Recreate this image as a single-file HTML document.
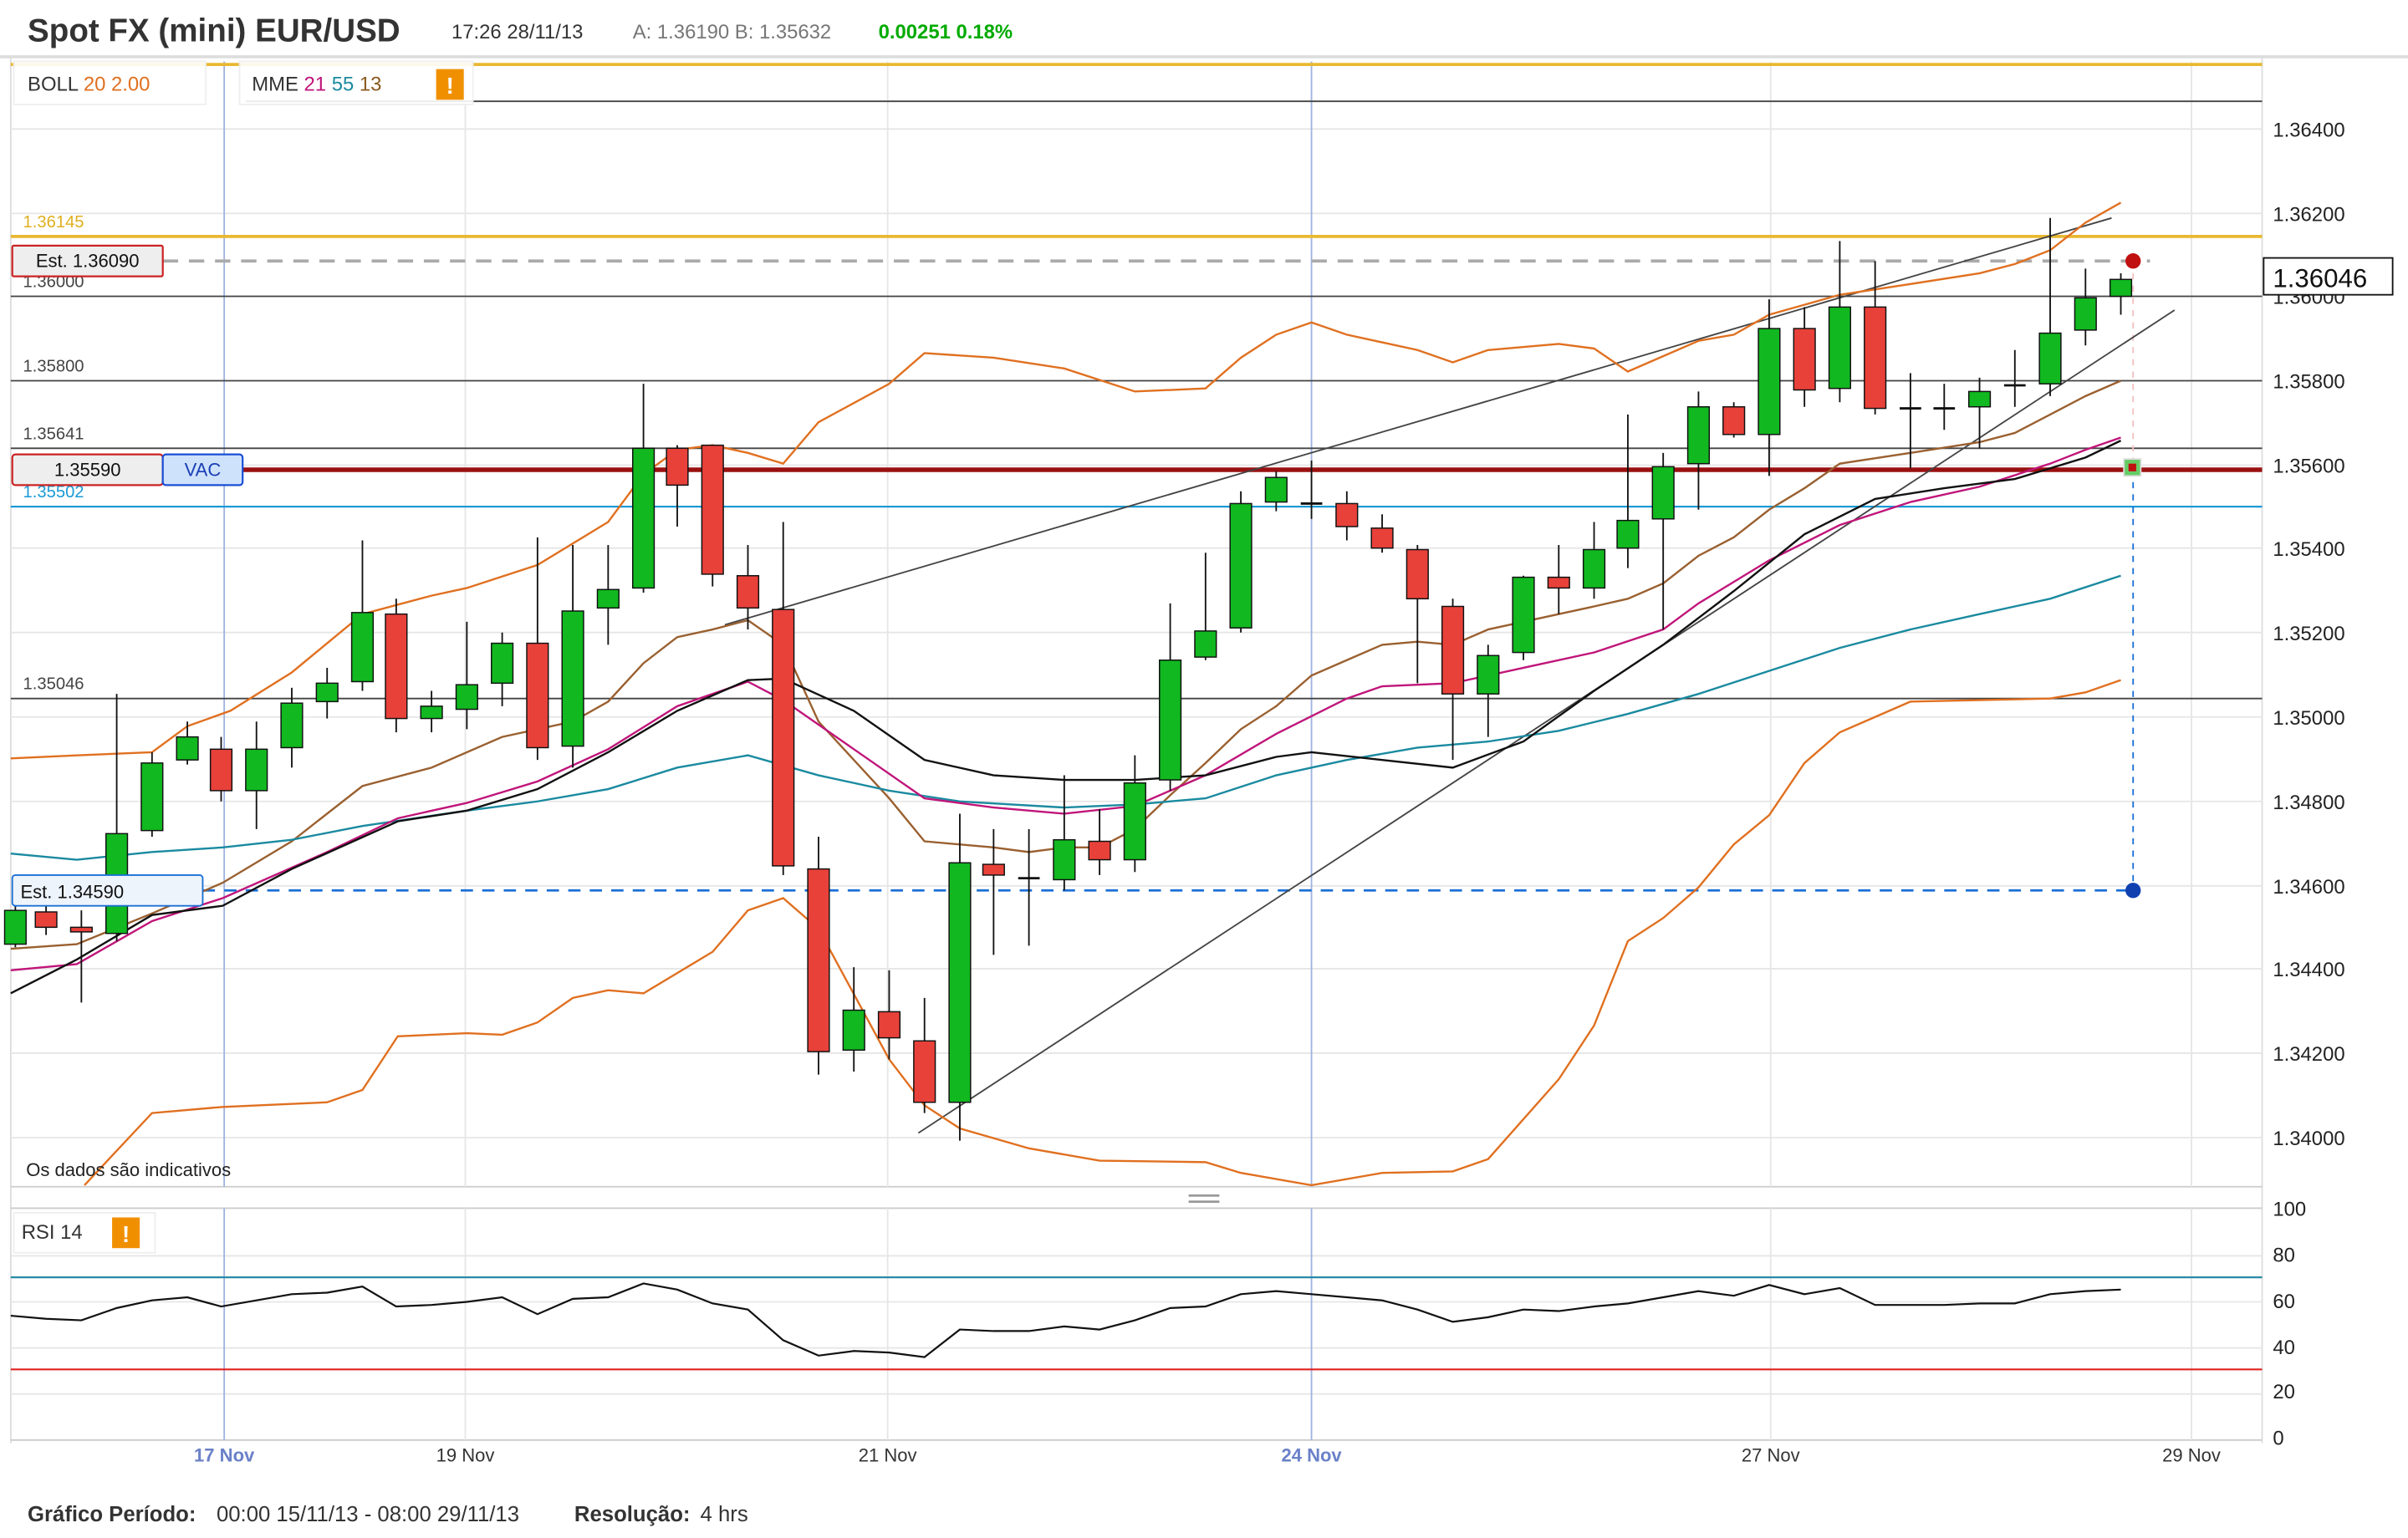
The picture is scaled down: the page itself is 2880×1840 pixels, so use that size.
<!DOCTYPE html>
<html><head><meta charset="utf-8">
<style>
html,body{margin:0;padding:0;background:#fff;}
svg{display:block;font-family:"Liberation Sans",sans-serif;}
</style></head>
<body>
<svg id="c" width="2880" height="1840" viewBox="0 0 1568 1001.8" preserveAspectRatio="none" xmlns="http://www.w3.org/2000/svg">
<rect x="0" y="0" width="1568" height="1002" fill="#fff"/>
<text x="18" y="27" font-size="21" font-weight="bold" fill="#333">Spot FX (mini) EUR/USD</text>
<text x="294" y="25" font-size="13" fill="#333">17:26 28/11/13</text>
<text x="412" y="25" font-size="13" fill="#777">A: 1.36190  B: 1.35632</text>
<text x="572" y="25" font-size="13" font-weight="bold" fill="#0a0">0.00251 0.18%</text>
<line x1="0" y1="37" x2="1568" y2="37" stroke="#ddd" stroke-width="2"/>
<line x1="7" y1="37" x2="7" y2="940" stroke="#ddd"/>
<line x1="1473" y1="37" x2="1473" y2="940" stroke="#ddd"/>
<line x1="7" y1="773" x2="1473" y2="773" stroke="#ccc"/>
<line x1="7" y1="787" x2="1473" y2="787" stroke="#ccc"/>
<line x1="7" y1="938" x2="1473" y2="938" stroke="#ccc"/>
<rect x="774" y="778" width="20" height="1.5" fill="#999"/><rect x="774" y="782" width="20" height="1.5" fill="#999"/>
<g id="grid"></g>
<g id="lvl"></g>
<g id="ind"></g>
<g id="cand"></g>
<text x="15" y="148" font-size="11" fill="#e0b020">1.36145</text>
<text x="15" y="187" font-size="11" fill="#444">1.36000</text>
<text x="15" y="242" font-size="11" fill="#444">1.35800</text>
<text x="15" y="286" font-size="11" fill="#444">1.35641</text>
<text x="15" y="324" font-size="11" fill="#1a9ad6">1.35502</text>
<text x="15" y="449" font-size="11" fill="#444">1.35046</text>
<rect x="8" y="160" width="98" height="20" fill="#eee" stroke="#c22" stroke-width="1.2" rx="1"/>
<text x="57" y="174" font-size="12" fill="#111" text-anchor="middle">Est. 1.36090</text>
<rect x="8" y="296" width="98" height="20" fill="#eee" stroke="#c22" stroke-width="1.2" rx="2"/>
<rect x="106" y="296" width="52" height="20" fill="#cfe2fb" stroke="#1a4fd6" stroke-width="1.2" rx="2"/>
<text x="57" y="310" font-size="12" fill="#111" text-anchor="middle">1.35590</text>
<text x="132" y="310" font-size="12" fill="#1a3fb6" text-anchor="middle">VAC</text>
<rect x="8" y="570" width="124" height="20" fill="#eef4fc" stroke="#1a6fd6" stroke-width="1" rx="2"/>
<text x="47" y="585" font-size="12" fill="#111" text-anchor="middle">Est. 1.34590</text>
<rect x="9" y="40" width="125" height="28" fill="#fff" stroke="#eee" opacity="0.9"/>
<text x="18" y="59" font-size="13" fill="#333">BOLL <tspan fill="#e07020">20  2.00</tspan></text>
<rect x="156" y="40" width="152" height="28" fill="#fff" stroke="#eee" opacity="0.9"/>
<text x="164" y="59" font-size="13" fill="#333">MME <tspan fill="#c0157a">21</tspan> <tspan fill="#1a8aa0">55</tspan> <tspan fill="#8a5a20">13</tspan></text>
<rect x="284" y="45" width="18" height="20" fill="#f09000"/><text x="293" y="61" font-size="15" font-weight="bold" fill="#fff" text-anchor="middle">!</text>
<text x="17" y="766" font-size="12" fill="#222">Os dados são indicativos</text>
<g font-size="13" fill="#222">
<text x="1480" y="89">1.36400</text><text x="1480" y="144">1.36200</text><text x="1480" y="198">1.36000</text>
<text x="1480" y="253">1.35800</text><text x="1480" y="308">1.35600</text><text x="1480" y="362">1.35400</text>
<text x="1480" y="417">1.35200</text><text x="1480" y="472">1.35000</text><text x="1480" y="527">1.34800</text>
<text x="1480" y="582">1.34600</text><text x="1480" y="636">1.34400</text><text x="1480" y="691">1.34200</text>
<text x="1480" y="746">1.34000</text>
<text x="1480" y="792">100</text><text x="1480" y="822">80</text><text x="1480" y="852">60</text>
<text x="1480" y="882">40</text><text x="1480" y="911">20</text><text x="1480" y="941">0</text>
</g>
<rect x="1474" y="168" width="84" height="24" fill="#fff" stroke="#111"/>
<text x="1480" y="187" font-size="17" fill="#111">1.36046</text>
<rect x="9" y="790" width="92" height="26" fill="#fff" stroke="#eee"/>
<text x="14" y="807" font-size="13" fill="#333">RSI  14</text>
<rect x="73" y="793" width="18" height="20" fill="#f09000"/><text x="82" y="809" font-size="15" font-weight="bold" fill="#fff" text-anchor="middle">!</text>
<g font-size="12" fill="#333" text-anchor="middle">
<text x="146" y="952" fill="#6a80c8" font-weight="bold">17 Nov</text><text x="303" y="952">19 Nov</text>
<text x="578" y="952">21 Nov</text><text x="854" y="952" fill="#6a80c8" font-weight="bold">24 Nov</text>
<text x="1153" y="952">27 Nov</text><text x="1427" y="952">29 Nov</text>
</g>
<text x="18" y="991" font-size="14" fill="#333" font-weight="bold">Gráfico Período:</text>
<text x="141" y="991" font-size="14" fill="#333">00:00 15/11/13 - 08:00 29/11/13</text>
<text x="374" y="991" font-size="14" fill="#333" font-weight="bold">Resolução:</text>
<text x="456" y="991" font-size="14" fill="#333">4 hrs</text>
</svg>
<script>
var NS="http://www.w3.org/2000/svg";
function el(p,t,a){var e=document.createElementNS(NS,t);for(var k in a)e.setAttribute(k,a[k]);document.getElementById(p).appendChild(e);return e;}
function L(p,x1,y1,x2,y2,s,w,d){var a={x1:x1,y1:y1,x2:x2,y2:y2,stroke:s,"stroke-width":w||1};if(d)a["stroke-dasharray"]=d;return el(p,"line",a);}
[84,139,193,248,303,357,412,467,522,577,631,686,741].forEach(function(y){L("grid",7,y,1473,y,"#e6e6e6");});
[818,848,878,908].forEach(function(y){L("grid",7,y,1473,y,"#e6e6e6");});
[303,578,1153,1427].forEach(function(x){L("grid",x,40,x,773,"#e6e6e6");L("grid",x,787,x,938,"#e6e6e6");});
[146,854].forEach(function(x){L("grid",x,40,x,773,"#9fb2e0");L("grid",x,787,x,938,"#9fb2e0");});
L("lvl",7,42,1473,42,"#e8b830",2);
L("lvl",160,66,1473,66,"#444",1);
L("lvl",7,154,1473,154,"#e8b830",2);
L("lvl",106,170,1400,170,"#aaa",2,"10 7");
L("lvl",7,193,1473,193,"#444",1);
L("lvl",7,248,1473,248,"#444",1);
L("lvl",7,292,1473,292,"#444",1);
L("lvl",158,306,1473,306,"#9a1010",3);
L("lvl",7,330,1473,330,"#1a9ad6",1.2);
L("lvl",7,455,1473,455,"#444",1);
L("lvl",132,580,1389,580,"#1a6fd6",1.5,"8 6");
L("lvl",1389,306,1389,580,"#1a6fd6",1,"4 4");
L("lvl",1389,170,1389,300,"#f3c0c0",1,"4 4");
L("lvl",472,407,1375,142,"#444",1);
L("lvl",598,738,1416,202,"#444",1);
el("lvl","circle",{cx:1389,cy:170,r:5,fill:"#c01010"});
el("lvl","circle",{cx:1389,cy:580,r:5,fill:"#1040b0"});
el("lvl","rect",{x:1383,y:299,width:11,height:11,fill:"#6c6",stroke:"#ddd"});
el("lvl","rect",{x:1386,y:302,width:5,height:5,fill:"#c01010"});
L("lvl",7,832,1473,832,"#2a8aa8",1.2);
L("lvl",7,892,1473,892,"#e02020",1.2);
function P(p,pts,c,w){el(p,"polyline",{points:pts,fill:"none",stroke:c,"stroke-width":w||1.3});}
P("ind","7,494 50,492 99,490 122,473 150,463 190,438 236,400 281,388 304,383 350,368 396,340 419,309 441,293 464,290 487,295 510,302 533,275 579,250 602,230 647,233 693,240 739,255 785,253 808,233 831,218 854,210 877,218 923,228 946,236 969,228 1015,224 1038,227 1060,242 1083,232 1106,222 1129,218 1152,205 1198,192 1244,185 1289,178 1312,172 1335,163 1358,145 1381,132","#e07020");
P("ind","55,772 99,725 145,721 213,718 236,710 259,675 304,673 327,674 350,666 373,650 396,645 419,647 464,620 487,593 510,585 533,605 579,690 602,720 625,735 670,748 716,756 785,757 808,764 854,772 900,764 946,763 969,755 1015,703 1038,668 1060,613 1083,598 1106,578 1129,550 1152,531 1175,497 1198,477 1244,457 1289,456 1335,455 1358,451 1381,443","#e07020");
P("ind","7,618 50,615 99,595 145,575 190,548 236,512 281,500 327,480 373,470 396,457 419,432 441,415 464,410 487,404 510,420 533,470 579,520 602,548 647,552 670,555 693,552 716,552 739,540 762,518 785,497 808,475 831,460 854,440 877,430 900,420 923,418 946,420 969,410 1015,400 1038,395 1060,390 1083,380 1106,362 1129,350 1152,332 1175,318 1198,302 1244,295 1289,288 1312,282 1335,270 1358,258 1381,248","#9a6030");
P("ind","7,556 50,560 99,555 145,552 190,547 236,538 304,528 350,522 396,514 441,500 487,492 533,505 579,515 625,522 693,526 739,524 785,520 831,505 877,495 923,487 969,483 1015,476 1060,465 1106,452 1152,437 1198,422 1244,410 1289,400 1335,390 1381,375","#1a8aa0");
P("ind","7,632 50,628 99,600 145,585 213,555 259,533 304,523 350,509 396,488 441,460 487,444 510,456 556,488 602,520 647,526 693,530 739,525 785,505 831,478 877,455 900,447 946,445 992,435 1038,425 1083,410 1106,393 1152,365 1198,342 1244,327 1289,317 1335,302 1358,293 1381,285","#c0157a");
P("ind","7,647 50,625 99,596 145,590 190,566 259,535 304,528 350,514 396,490 441,463 487,443 510,442 556,463 602,495 647,505 693,508 739,508 785,505 831,493 854,490 900,495 946,500 992,483 1038,450 1083,420 1129,385 1175,348 1221,325 1266,318 1312,312 1358,298 1381,287","#111");
P("ind","7,857 30,859 53,860 76,852 99,847 122,845 144,851 167,847 190,843 213,842 236,838 258,851 281,850 304,848 327,845 350,856 373,846 396,845 419,836 441,840 464,849 487,853 510,873 533,883 556,880 579,881 602,884 625,866 647,867 670,867 693,864 716,866 739,860 762,852 785,851 808,843 831,841 854,843 877,845 900,847 923,853 946,861 969,858 992,853 1015,854 1038,851 1060,849 1083,845 1106,841 1129,844 1152,837 1175,843 1198,839 1221,850 1244,850 1266,850 1289,849 1312,849 1335,843 1358,841 1381,840","#111",1.2);
var C=[[10,"g",593,615,590,617],[30,"r",594,604,588,609],[53,"r",604,607,593,653],[76,"g",543,608,452,613],[99,"g",497,541,490,545],[122,"g",480,495,470,498],[144,"r",488,515,480,522],[167,"g",488,515,470,540],[190,"g",458,487,448,500],[213,"g",445,457,435,468],[236,"g",399,444,352,450],[258,"r",400,468,390,477],[281,"g",460,468,450,477],[304,"g",446,462,405,475],[327,"g",419,445,412,460],[350,"r",419,487,350,495],[373,"g",398,486,355,500],[396,"g",384,396,355,420],[419,"g",292,383,250,386],[441,"r",292,316,290,343],[464,"r",290,374,290,382],[487,"r",375,396,355,410],[510,"r",397,564,340,570],[533,"r",566,685,545,700],[556,"g",658,684,630,698],[579,"r",659,676,632,690],[602,"r",678,718,650,725],[625,"g",562,718,530,743],[647,"r",563,570,540,622],[670,"f",572,573,540,616],[693,"g",547,573,505,580],[716,"r",548,560,527,570],[739,"g",510,560,492,568],[762,"g",430,508,393,515],[785,"g",411,428,360,430],[808,"g",328,409,320,412],[831,"g",311,327,307,333],[854,"f",328,328,300,338],[877,"r",328,343,320,352],[900,"r",344,357,335,360],[923,"r",358,390,355,445],[946,"r",395,452,390,495],[969,"g",427,452,420,480],[992,"g",376,425,375,430],[1015,"r",376,383,355,400],[1038,"g",358,383,340,390],[1060,"g",339,357,270,370],[1083,"g",304,338,295,410],[1106,"g",265,302,255,332],[1129,"r",265,283,262,285],[1152,"g",214,283,195,310],[1175,"r",214,254,200,265],[1198,"g",200,253,157,262],[1221,"r",200,266,170,270],[1244,"f",266,266,243,305],[1266,"f",266,266,250,280],[1289,"g",255,265,246,292],[1312,"f",251,251,228,265],[1335,"g",217,250,142,258],[1358,"g",194,215,175,225],[1381,"g",182,193,178,205]];
C.forEach(function(c){var x=c[0];L("cand",x,c[4],x,c[5],"#111",1);
if(c[1]=="f"){L("cand",x-7,c[2],x+7,c[2],"#111",1.5);return;}
el("cand","rect",{x:x-7,y:c[2],width:14,height:Math.max(2,c[3]-c[2]),fill:c[1]=="g"?"#11b820":"#e8413a",stroke:"#111","stroke-width":0.8});});
</script>
</body></html>
